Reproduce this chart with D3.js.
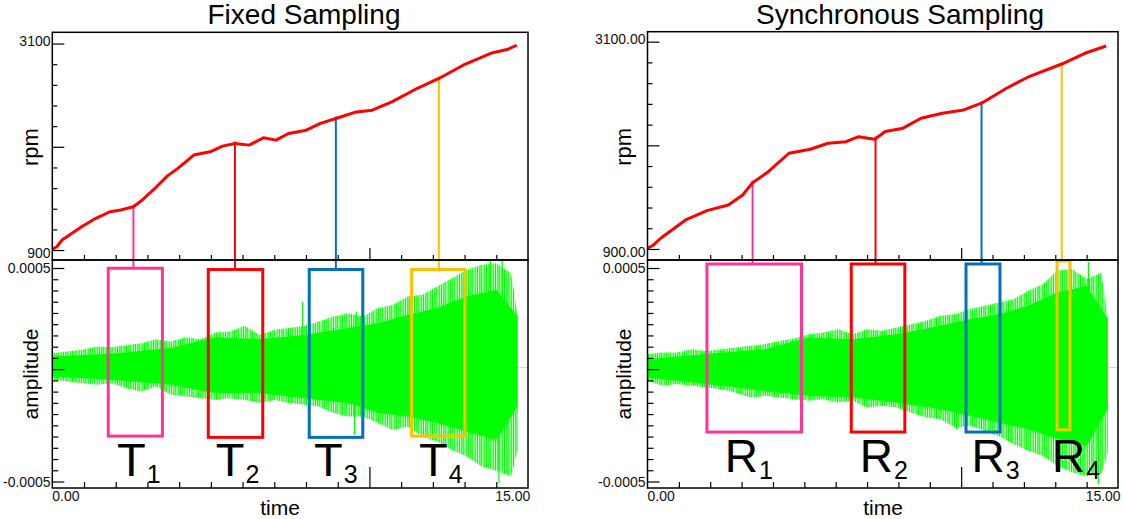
<!DOCTYPE html>
<html><head><meta charset="utf-8">
<script src="https://cdn.jsdelivr.net/npm/d3@7"></script>
<style>
body{margin:0;background:#fff;}
text{font-family:"Liberation Sans",Arial,sans-serif;}
</style>
</head><body>
<svg id="c" width="1124" height="519"></svg>
<script>
// ---------------- DATA ----------------
const titles = ["Fixed Sampling", "Synchronous Sampling"];
const rpmTickLabels = [["3100", "900"], ["3100.00", "900.00"]];
const ampTickLabels = ["0.0005", "-0.0005"];
const xTickLabels = ["0.00", "15.00"];
const rpmTicks = [900, 1120, 1340, 1560, 1780, 2000, 2220, 2440, 2660, 2880, 3100];

// rpm curves (time s, rpm)
const fixedRpmT = [0, 0.15, 0.33, 0.99, 1.47, 1.95, 2.31, 2.74, 3.04, 3.52, 3.88, 4.24, 4.78, 5.33, 5.75, 6.17, 6.65, 7.13, 7.56, 7.98, 8.58, 9.06, 9.58, 10.27, 10.81, 11.47, 12.32, 13.06, 13.88, 14.85, 15.4, 15.69];
const fixedRpm  = [908, 935, 1007, 1149, 1238, 1308, 1326, 1361, 1433, 1574, 1688, 1770, 1912, 1947, 2007, 2036, 2018, 2096, 2071, 2142, 2177, 2249, 2302, 2372, 2390, 2479, 2621, 2728, 2869, 3000, 3040, 3082];
const syncRpmT  = [0, 0.2, 0.45, 1.30, 2.03, 2.76, 3.25, 3.59, 4.10, 4.83, 5.56, 6.17, 6.78, 7.21, 7.76, 8.12, 8.73, 9.34, 10.07, 10.80, 11.41, 12.26, 12.99, 14.15, 14.94, 15.67];
const syncRpm   = [908, 940, 1014, 1208, 1307, 1367, 1473, 1604, 1714, 1916, 1958, 2022, 2039, 2092, 2065, 2146, 2182, 2288, 2341, 2376, 2447, 2606, 2723, 2863, 2977, 3054];

// amplitude envelopes (units of 1e-4), outer spike envelope
const ampT = [0, 0.5, 1, 1.5, 2, 2.5, 3, 3.5, 4, 4.5, 5, 5.5, 6, 6.5, 7, 7.5, 8, 8.5, 9, 9.5, 10, 10.5, 11, 11.5, 12, 12.5, 13, 13.5, 14, 14.5, 15, 15.5, 15.72];
const fixedAmpHi = [0.67, 0.75, 0.83, 0.99, 0.95, 1.06, 1.14, 1.33, 1.22, 1.42, 1.33, 1.64, 1.69, 1.96, 1.53, 1.77, 1.85, 1.95, 2.16, 2.39, 2.55, 2.39, 2.79, 2.94, 3.33, 3.41, 3.80, 4.19, 4.59, 4.82, 4.90, 4.43, 2.47];
const fixedAmpLo = [0.58, 0.66, 0.74, 0.81, 0.74, 0.97, 1.13, 0.89, 1.28, 1.36, 1.44, 1.52, 1.44, 1.52, 1.67, 1.52, 1.67, 1.75, 1.83, 2.14, 2.30, 2.30, 2.61, 2.93, 2.77, 3.24, 3.47, 3.87, 4.18, 4.65, 4.85, 5.12, 3.87];
const syncAmpHi  = [0.63, 0.70, 0.70, 0.86, 0.78, 0.86, 0.94, 1.02, 1.10, 1.25, 1.36, 1.56, 1.64, 1.80, 1.56, 1.80, 1.72, 1.88, 2.03, 2.19, 2.43, 2.50, 2.74, 2.90, 3.05, 3.21, 3.60, 3.91, 4.55, 4.62, 4.15, 4.46, 2.35];
const syncAmpLo  = [0.63, 0.86, 0.78, 0.86, 0.94, 1.02, 1.17, 1.41, 1.33, 1.41, 1.49, 1.56, 1.49, 1.64, 1.56, 1.88, 1.80, 1.88, 2.11, 2.35, 2.43, 2.82, 2.74, 2.97, 3.21, 3.60, 3.91, 4.15, 4.62, 4.93, 5.10, 5.00, 3.99];
// dense core of the signal (units of 1e-4)
const coreT = [0, 2, 4, 5.5, 7, 8.5, 10, 11, 12, 13, 14, 15, 15.72];
const fixedCoreHi = [0.52, 0.64, 0.91, 1.42, 1.33, 1.53, 1.85, 2.08, 2.47, 2.79, 3.33, 3.65, 2.40];
const fixedCoreLo = [0.42, 0.58, 0.81, 1.20, 1.20, 1.44, 1.67, 2.14, 2.30, 2.61, 3.00, 3.40, 1.83];
const syncCoreHi  = [0.39, 0.63, 0.86, 1.41, 1.33, 1.56, 1.96, 2.27, 2.50, 2.90, 3.52, 3.83, 2.27];
const syncCoreLo  = [0.47, 0.78, 1.10, 1.33, 1.41, 1.64, 1.96, 2.27, 2.58, 2.90, 3.36, 3.68, 1.96];
// isolated spikes (time, amplitude 1e-4)
const fixedSpikeT = [8.46, 10.21, 10.27, 14.8, 15.09, 15.2];
const fixedSpikeA = [3.10, -3.16, 2.63, 5.2, -5.43, 5.3];
const syncSpikeT  = [10.55, 14.0, 15.06, 15.4];
const syncSpikeA  = [-2.9, 4.95, 4.95, -5.48];

// windows
const boxColors = ["#ff3399", "#ff0000", "#0070c0", "#ffc000"];
const fixedBoxStart = [1.89, 5.27, 8.68, 12.14];
const fixedBoxEnd   = [3.72, 7.11, 10.49, 13.94];
const fixedBoxHi    = [4.66, 4.60, 4.60, 4.60];
const fixedBoxLo    = [-3.22, -3.28, -3.28, -3.22];
const fixedConnT    = [2.74, 6.17, 9.58, 13.06];
const fixedLabelT   = [2.19, 5.52, 8.84, 12.39];
const syncBoxStart  = [2.03, 6.96, 10.88, 13.99];
const syncBoxEnd    = [5.26, 8.79, 12.04, 14.43];
const syncBoxHi     = [4.86, 4.86, 4.86, 5.00];
const syncBoxLo     = [-3.03, -3.03, -3.03, -2.93];
const syncConnT     = [3.59, 7.79, 11.41, 14.15];
const syncLabelT    = [2.64, 7.25, 11.07, 13.82];
const labelLetters  = ["T", "R"];
const labelSubs     = ["1", "2", "3", "4"];

// ---------------- DRAW ----------------
const svg = d3.select("#c");
const defs = svg.append("defs");
const pat = defs.append("pattern").attr("id", "stripe").attr("patternUnits", "userSpaceOnUse")
  .attr("width", 9).attr("height", 20);
[[0, 1.2], [2.1, 0.8], [3.4, 1.4], [5.6, 0.9], [7.2, 1.1]].forEach(([sx, sw]) =>
  pat.append("rect").attr("x", sx).attr("y", 0).attr("width", sw).attr("height", 20).attr("fill", "#00ff00"));

const E4 = 1e-4;
const xTickVals = d3.range(16).map(i => i * 15 / 14);

const panels = [
  {x0: 52.3, x1: 528, yTop: 32.3, yMid: 260, yBot: 488, titleX: 304, rpmDom: [794, 3220],
   rpmT: fixedRpmT, rpm: fixedRpm, hi: fixedAmpHi, lo: fixedAmpLo, cHi: fixedCoreHi, cLo: fixedCoreLo,
   spT: fixedSpikeT, spA: fixedSpikeA, bS: fixedBoxStart, bE: fixedBoxEnd, bH: fixedBoxHi, bL: fixedBoxLo,
   cT: fixedConnT, lT: fixedLabelT, letter: labelLetters[0], lSize: 47, lBase: 476,
   rpmLx: 38, ampLx: 38, tickLx: 50.5, timeX: 280, idx: 0},
  {x0: 647.5, x1: 1118, yTop: 31.7, yMid: 260, yBot: 488, titleX: 900, rpmDom: [783, 3206],
   rpmT: syncRpmT, rpm: syncRpm, hi: syncAmpHi, lo: syncAmpLo, cHi: syncCoreHi, cLo: syncCoreLo,
   spT: syncSpikeT, spA: syncSpikeA, bS: syncBoxStart, bE: syncBoxEnd, bH: syncBoxHi, bL: syncBoxLo,
   cT: syncConnT, lT: syncLabelT, letter: labelLetters[1], lSize: 46, lBase: 472,
   rpmLx: 631, ampLx: 631, tickLx: 645.5, timeX: 883, idx: 1}
];

const ampDom = [-5.657 * E4, 5.047 * E4];
const ampTickMax = 4.671 * E4, ampTickMin = -5.352 * E4;
const ampTicks = d3.range(20).map(i => ampTickMax - i * (ampTickMax - ampTickMin) / 19);

panels.forEach(p => {
  const g = svg.append("g");
  const x = d3.scaleLinear().domain([0, 15 * 15 / 14]).range([p.x0, p.x1]);
  const yR = d3.scaleLinear().domain(p.rpmDom).range([p.yMid, p.yTop]);
  const yA = d3.scaleLinear().domain(ampDom).range([p.yBot, p.yMid]);

  const clipId = "clip" + p.idx;
  defs.append("clipPath").attr("id", clipId).append("rect")
    .attr("x", p.x0).attr("y", p.yMid).attr("width", p.x1 - p.x0).attr("height", p.yBot - p.yMid);
  const gb = g.append("g").attr("clip-path", `url(#${clipId})`);

  gb.append("line").attr("x1", p.x0).attr("x2", p.x1).attr("y1", yA(0)).attr("y2", yA(0))
    .attr("stroke", "#d9d9d9").attr("stroke-width", 1);

  const outer = ampT.map((t, i) => ({t, hi: p.hi[i] * E4, lo: -p.lo[i] * E4}));
  gb.append("path").datum(outer)
    .attr("d", d3.area().x(d => x(d.t)).y0(d => yA(d.lo)).y1(d => yA(d.hi)))
    .attr("fill", "url(#stripe)");
  const core = coreT.map((t, i) => ({t, hi: p.cHi[i] * E4, lo: -p.cLo[i] * E4}));
  gb.append("path").datum(core)
    .attr("d", d3.area().x(d => x(d.t)).y0(d => yA(d.lo)).y1(d => yA(d.hi)))
    .attr("fill", "#00ff00");
  p.spT.forEach((t, i) => {
    gb.append("line").attr("x1", x(t)).attr("x2", x(t)).attr("y1", yA(0)).attr("y2", yA(p.spA[i] * E4))
      .attr("stroke", "#00ff00").attr("stroke-width", 1.2);
  });

  p.bS.forEach((s, i) => {
    g.append("rect").attr("x", x(s)).attr("y", yA(p.bH[i] * E4))
      .attr("width", x(p.bE[i]) - x(s)).attr("height", yA(p.bL[i] * E4) - yA(p.bH[i] * E4))
      .attr("fill", "none").attr("stroke", boxColors[i]).attr("stroke-width", 3);
  });

  const rpmAt = t => {
    const i = d3.bisectRight(p.rpmT, t);
    const i0 = Math.max(0, i - 1), i1 = Math.min(p.rpmT.length - 1, i);
    const f = p.rpmT[i1] === p.rpmT[i0] ? 0 : (t - p.rpmT[i0]) / (p.rpmT[i1] - p.rpmT[i0]);
    return p.rpm[i0] + f * (p.rpm[i1] - p.rpm[i0]);
  };
  p.cT.forEach((t, i) => {
    g.append("line").attr("x1", x(t)).attr("x2", x(t))
      .attr("y1", yR(rpmAt(t)) - 2).attr("y2", yA(p.bH[i] * E4))
      .attr("stroke", boxColors[i]).attr("stroke-width", 2);
  });

  g.append("path").datum(p.rpmT.map((t, i) => [t, p.rpm[i]]))
    .attr("d", d3.line().x(d => x(d[0])).y(d => yR(d[1])))
    .attr("fill", "none").attr("stroke", "#ff0000").attr("stroke-width", 3)
    .attr("stroke-linejoin", "round");

  [[p.yTop, p.yMid], [p.yMid, p.yBot]].forEach(([a, b]) => {
    g.append("rect").attr("x", p.x0).attr("y", a).attr("width", p.x1 - p.x0).attr("height", b - a)
      .attr("fill", "none").attr("stroke", "#000").attr("stroke-width", 1.5);
  });

  const tickAxis = (scale, vals, len, tx, ty, orient) => {
    const ax = (orient === "right" ? d3.axisRight(scale) : d3.axisTop(scale))
      .tickValues(vals).tickSize(len).tickFormat("");
    const ga = g.append("g").attr("transform", `translate(${tx},${ty})`).call(ax);
    ga.select(".domain").remove();
    ga.selectAll("line").attr("stroke", "#000").attr("stroke-width", 1.2);
  };
  tickAxis(yR, rpmTicks.filter(v => v !== 900 && v !== 2000 && v !== 3100), 5, p.x0, 0, "right");
  tickAxis(yR, [900, 2000, 3100], 12, p.x0, 0, "right");
  tickAxis(yA, ampTicks.filter((v, i) => i !== 0 && i !== 9 && i !== 19), 6, p.x0, 0, "right");
  tickAxis(yA, ampTicks.filter((v, i) => i === 0 || i === 9 || i === 19), 12, p.x0, 0, "right");
  tickAxis(x, xTickVals.filter((v, i) => i !== 10 && i !== 0 && i !== 15), 5, 0, p.yMid, "top");
  tickAxis(x, [xTickVals[10]], 12, 0, p.yMid, "top");
  tickAxis(x, xTickVals.filter((v, i) => i !== 10 && i !== 0 && i !== 15), 6, 0, p.yBot, "top");
  tickAxis(x, [xTickVals[10]], 21, 0, p.yBot, "top");

  const lab = (txt, tx, ty, anchor) => g.append("text").attr("x", tx).attr("y", ty)
    .attr("text-anchor", anchor).attr("font-size", 14).attr("fill", "#111").text(txt);
  lab(rpmTickLabels[p.idx][0], p.tickLx, yR(3100) + 2, "end");
  lab(rpmTickLabels[p.idx][1], p.tickLx, yR(900) + 8, "end");
  lab(ampTickLabels[0], p.tickLx, yA(ampTickMax) + 5, "end");
  lab(ampTickLabels[1], p.tickLx, yA(ampTickMin) + 5, "end");
  lab(xTickLabels[0], x(0), p.yBot + 13, "start");
  lab(xTickLabels[1], x(15) - 1, p.yBot + 13, "start");

  g.append("text").attr("x", p.timeX).attr("y", 515).attr("text-anchor", "middle")
    .attr("font-size", 21).attr("fill", "#000").text("time");
  g.append("text").attr("transform", `translate(${p.rpmLx},${(p.yTop + p.yMid) / 2 + 1}) rotate(-90)`)
    .attr("text-anchor", "middle").attr("font-size", 22).attr("fill", "#000").text("rpm");
  g.append("text").attr("transform", `translate(${p.ampLx},${(p.yMid + p.yBot) / 2}) rotate(-90)`)
    .attr("text-anchor", "middle").attr("font-size", 21).attr("fill", "#000").text("amplitude");

  g.append("text").attr("x", p.titleX).attr("y", 24).attr("text-anchor", "middle")
    .attr("font-size", 28).attr("fill", "#000").text(titles[p.idx]);

  p.lT.forEach((t, i) => {
    const tx = g.append("text").attr("x", x(t)).attr("y", p.lBase).attr("font-size", p.lSize).attr("fill", "#000");
    tx.append("tspan").text(p.letter);
    tx.append("tspan").attr("font-size", 25).attr("dy", 6.5).attr("dx", 1).text(labelSubs[i]);
  });
});
</script>
</body></html>
